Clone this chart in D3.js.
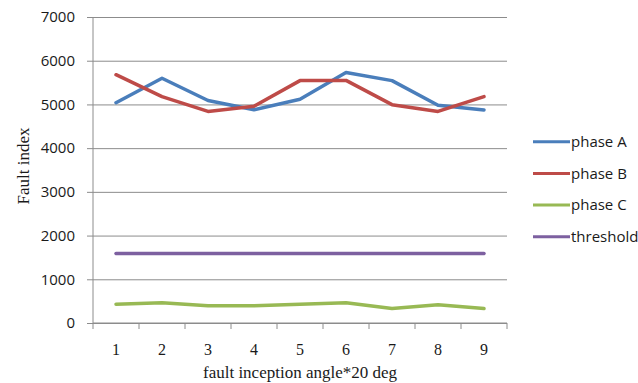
<!DOCTYPE html>
<html>
<head>
<meta charset="utf-8">
<script src="https://cdn.jsdelivr.net/npm/d3@7"></script>
<style>
  body { margin: 0; background: #fff; }
  svg { display: block; }
</style>
</head>
<body>
<div id="chart"></div>
<script>
'use strict';

// data
var categories = ['1', '2', '3', '4', '5', '6', '7', '8', '9'];
var phaseA = [5040, 5600, 5090, 4880, 5120, 5730, 5545, 4980, 4875];
var phaseB = [5680, 5180, 4840, 4960, 5545, 5550, 4995, 4840, 5180];
var phaseC = [430, 465, 395, 395, 430, 465, 330, 415, 330];
var threshold = [1590, 1590, 1590, 1590, 1590, 1590, 1590, 1590, 1590];
var yTicks = [0, 1000, 2000, 3000, 4000, 5000, 6000, 7000];

var series = [
  { name: 'phase A', values: phaseA, color: '#4a7ebb' },
  { name: 'phase B', values: phaseB, color: '#be4b48' },
  { name: 'phase C', values: phaseC, color: '#98b954' },
  { name: 'threshold', values: threshold, color: '#7d60a0' }
];

var width = 638, height = 383;
var plot = { left: 93, right: 507, top: 17, bottom: 323 };

var svg = d3.select('#chart').append('svg')
  .attr('width', width)
  .attr('height', height);

var x = d3.scaleBand().domain(categories).range([plot.left, plot.right]);
var y = d3.scaleLinear().domain([0, 7000]).range([plot.bottom, plot.top]);

// gridlines
svg.append('g')
  .attr('transform', 'translate(' + plot.left + ',0)')
  .call(d3.axisLeft(y).tickValues(yTicks).tickSize(-(plot.right - plot.left)).tickFormat(''))
  .call(function(g) {
    g.select('.domain').remove();
    g.selectAll('line').attr('stroke', '#8c8c8c').attr('stroke-width', 1);
  });

// y axis
svg.append('g')
  .attr('transform', 'translate(' + plot.left + ',0)')
  .call(d3.axisLeft(y).tickValues(yTicks).tickSize(6).tickPadding(12).tickFormat(d3.format('d')))
  .call(function(g) {
    g.select('.domain').attr('stroke', '#8c8c8c').attr('d', 'M0,' + plot.top + 'V' + plot.bottom);
    g.selectAll('line').attr('stroke', '#8c8c8c');
    g.selectAll('text')
      .attr('fill', '#1a1a1a')
      .style('font-family', '"Open Sans", sans-serif')
      .style('font-size', '15px');
  });

// x axis
var xAxis = svg.append('g')
  .attr('transform', 'translate(0,' + plot.bottom + ')')
  .call(d3.axisBottom(x).tickSize(0).tickPadding(21))
  .call(function(g) {
    g.select('.domain').attr('stroke', '#8c8c8c').attr('d', 'M' + plot.left + ',0H' + plot.right);
    g.selectAll('text')
      .attr('fill', '#1a1a1a')
      .style('font-family', '"Liberation Serif", serif')
      .style('font-size', '16px');
  });

// tick marks sit between the categories
var edges = categories.map(function(c) { return x(c); }).concat([plot.right]);
xAxis.selectAll('line.edge')
  .data(edges)
  .enter().append('line')
  .attr('class', 'edge')
  .attr('x1', function(d) { return d; })
  .attr('x2', function(d) { return d; })
  .attr('y1', 0)
  .attr('y2', 6)
  .attr('stroke', '#8c8c8c');

// lines
var line = d3.line()
  .x(function(d, i) { return x(categories[i]) + x.bandwidth() / 2; })
  .y(function(d) { return y(d); });

svg.append('g').selectAll('path')
  .data(series)
  .enter().append('path')
  .attr('d', function(s) { return line(s.values); })
  .attr('fill', 'none')
  .attr('stroke', function(s) { return s.color; })
  .attr('stroke-width', 3.5)
  .attr('stroke-linejoin', 'round')
  .attr('stroke-linecap', 'round');

// axis titles
svg.append('text')
  .attr('x', (plot.left + plot.right) / 2)
  .attr('y', 378)
  .attr('text-anchor', 'middle')
  .style('font-family', '"Liberation Serif", serif')
  .style('font-size', '17px')
  .attr('fill', '#1a1a1a')
  .text('fault inception angle*20 deg');

svg.append('text')
  .attr('transform', 'translate(29,166) rotate(-90)')
  .attr('text-anchor', 'middle')
  .style('font-family', '"Liberation Serif", serif')
  .style('font-size', '17px')
  .attr('fill', '#1a1a1a')
  .text('Fault index');

// legend
var legend = svg.append('g').selectAll('g')
  .data(series)
  .enter().append('g')
  .attr('transform', function(s, i) { return 'translate(533,' + (141.7 + i * 31.7) + ')'; });

legend.append('line')
  .attr('x1', 0).attr('x2', 37)
  .attr('stroke', function(s) { return s.color; })
  .attr('stroke-width', 3);

legend.append('text')
  .attr('x', 38)
  .attr('dy', '0.35em')
  .style('font-family', '"Open Sans", sans-serif')
  .style('font-size', '15px')
  .attr('fill', '#1a1a1a')
  .text(function(s) { return s.name; });
</script>
</body>
</html>
